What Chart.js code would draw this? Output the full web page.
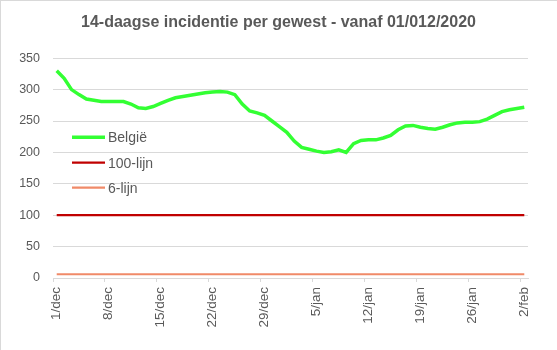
<!DOCTYPE html>
<html>
<head>
<meta charset="utf-8">
<script src="https://cdn.jsdelivr.net/npm/chart.js@4"></script>
<style>
  html, body { margin: 0; padding: 0; background: #fff; }
  #wrap { position: relative; width: 557px; height: 350px; }
  #frame { position: absolute; left: 0; top: 0; width: 557px; height: 350px; box-sizing: border-box; border-top: 1px solid #d9d9d9; border-left: 1px solid #d9d9d9; pointer-events: none; }
  canvas { display: block; }
</style>
</head>
<body>
<div id="wrap"><canvas id="c" width="557" height="350"></canvas><div id="frame"></div></div>
<script>
const title = "14-daagse incidentie per gewest - vanaf 01/012/2020";
const dates = [
  "1/dec","2/dec","3/dec","4/dec","5/dec","6/dec","7/dec","8/dec","9/dec","10/dec",
  "11/dec","12/dec","13/dec","14/dec","15/dec","16/dec","17/dec","18/dec","19/dec","20/dec",
  "21/dec","22/dec","23/dec","24/dec","25/dec","26/dec","27/dec","28/dec","29/dec","30/dec",
  "31/dec","1/jan","2/jan","3/jan","4/jan","5/jan","6/jan","7/jan","8/jan","9/jan",
  "10/jan","11/jan","12/jan","13/jan","14/jan","15/jan","16/jan","17/jan","18/jan","19/jan",
  "20/jan","21/jan","22/jan","23/jan","24/jan","25/jan","26/jan","27/jan","28/jan","29/jan",
  "30/jan","31/jan","1/feb","2/feb"
];
const belgie = [
  330,318,300,292,285,283,281,281,281,281,
  277,271,270,273,278,283,287,289,291,293,
  295,296,297,296,292,277,266,263,259,250,
  241,232,218,208,205,202,200,201,204,200,
  214,219,220,220,223,227,236,242,243,240,
  238,237,240,244,247,248,248,249,253,259,
  265,268,270,272
];
const lijn100 = [
  100,100,100,100,100,100,100,100,100,100,
  100,100,100,100,100,100,100,100,100,100,
  100,100,100,100,100,100,100,100,100,100,
  100,100,100,100,100,100,100,100,100,100,
  100,100,100,100,100,100,100,100,100,100,
  100,100,100,100,100,100,100,100,100,100,
  100,100,100,100
];
const lijn6 = [
  6,6,6,6,6,6,6,6,6,6,
  6,6,6,6,6,6,6,6,6,6,
  6,6,6,6,6,6,6,6,6,6,
  6,6,6,6,6,6,6,6,6,6,
  6,6,6,6,6,6,6,6,6,6,
  6,6,6,6,6,6,6,6,6,6,
  6,6,6,6
];
const seriesNames = ["België", "100-lijn", "6-lijn"];
const yMin = 0, yMax = 350, yStep = 50;
const labelEvery = 7;

const TXT = '#595959';
const GRID = '#d9d9d9';
const FONT = "'Liberation Sans', Arial, sans-serif";

const legendInside = {
  id: 'legendInside',
  afterDraw(chart) {
    const ctx = chart.ctx;
    const a = chart.chartArea;
    const x0 = a.left + 19, x1 = a.left + 52, tx = a.left + 55;
    const rows = [a.top + 79, a.top + 104.5, a.top + 129.5];
    ctx.save();
    chart.data.datasets.forEach((ds, i) => {
      const y = rows[i];
      ctx.strokeStyle = ds.borderColor;
      ctx.lineWidth = ds.borderWidth;
      ctx.beginPath();
      ctx.moveTo(x0, y);
      ctx.lineTo(x1, y);
      ctx.stroke();
      ctx.fillStyle = TXT;
      ctx.font = "14px " + FONT;
      ctx.textBaseline = 'middle';
      ctx.textAlign = 'left';
      ctx.fillText(ds.label, tx, y + 1);
    });
    ctx.restore();
  }
};

new Chart(document.getElementById('c'), {
  type: 'line',
  data: {
    labels: dates,
    datasets: [
      { label: seriesNames[0], data: belgie, borderColor: '#33ff33', borderWidth: 3.5, pointRadius: 0, tension: 0, order: 1 },
      { label: seriesNames[1], data: lijn100, borderColor: '#c00000', borderWidth: 2.2, pointRadius: 0, order: 2 },
      { label: seriesNames[2], data: lijn6, borderColor: '#f08a68', borderWidth: 2.2, pointRadius: 0, order: 3 }
    ]
  },
  options: {
    responsive: false,
    animation: false,
    devicePixelRatio: 1,
    layout: { padding: { left: 0, right: 0, top: 0, bottom: 0 } },
    plugins: {
      legend: { display: false },
      tooltip: { enabled: false },
      title: {
        display: true,
        text: title,
        color: TXT,
        font: { family: FONT, size: 16, weight: 'bold' },
        padding: { top: 13, bottom: 26 }
      }
    },
    scales: {
      x: {
        type: 'category',
        offset: true,
        grid: {
          display: true,
          drawOnChartArea: false,
          drawTicks: true,
          tickLength: 4,
          offset: true,
          color: (c) => (c.index % labelEvery === 0 ? GRID : 'rgba(0,0,0,0)')
        },
        border: { display: true, color: GRID, width: 1 },
        ticks: {
          autoSkip: false,
          maxRotation: 90,
          minRotation: 90,
          padding: 5,
          color: TXT,
          font: { family: FONT, size: 13.5 },
          callback: function (v, i) { return i % labelEvery === 0 ? this.getLabelForValue(v) : ''; }
        },
        afterFit(s) { s.height = 72; }
      },
      y: {
        min: yMin,
        max: yMax,
        ticks: { stepSize: yStep, color: TXT, font: { family: FONT, size: 12.5 }, padding: 13 },
        grid: { color: GRID, drawTicks: false, lineWidth: 1 },
        border: { display: false },
        afterFit(s) { s.width = 53; }
      },
      yRight: {
        position: 'right',
        min: yMin,
        max: yMax,
        ticks: { display: false },
        grid: { display: false },
        border: { display: false },
        afterFit(s) { s.width = 29; }
      }
    }
  },
  plugins: [legendInside]
});
</script>
</body>
</html>
